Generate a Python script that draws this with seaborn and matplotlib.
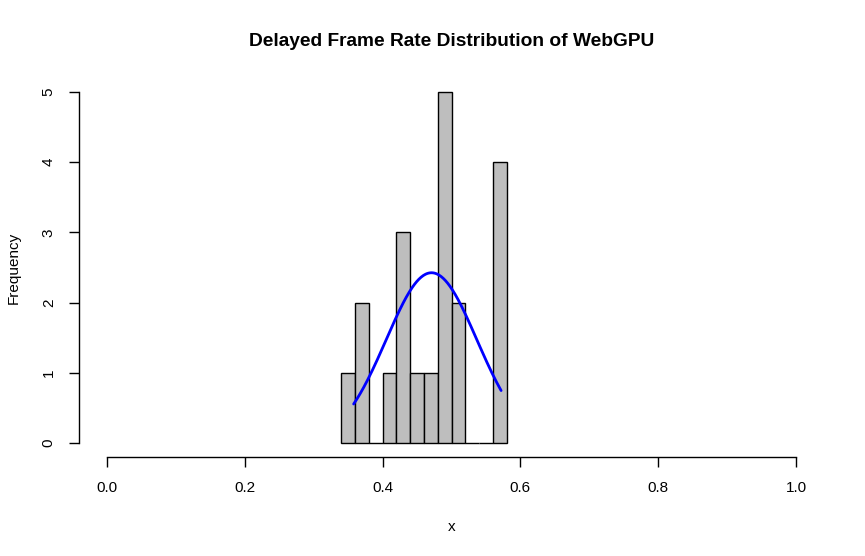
import numpy as np
import pandas as pd
import seaborn as sns
import matplotlib
matplotlib.use("Agg")
import matplotlib.pyplot as plt

sns.set_theme(style="white")
plt.rcParams['font.family'] = ['Liberation Sans', 'DejaVu Sans']
plt.rcParams['text.color'] = 'black'
plt.rcParams['axes.labelcolor'] = 'black'

# Data
bin_edges = [0.34, 0.36, 0.38, 0.40, 0.42, 0.44, 0.46, 0.48, 0.50, 0.52, 0.54, 0.56, 0.58]
counts = [1, 2, 0, 1, 3, 1, 1, 5, 2, 0, 0, 4]
curve_mean = 0.471
curve_sd = 0.0658
n_obs = sum(counts)
bin_width = 0.02
data_min = 0.358
data_max = 0.572
x_ticks = [0.0, 0.2, 0.4, 0.6, 0.8, 1.0]
x_tick_labels = ["0.0", "0.2", "0.4", "0.6", "0.8", "1.0"]
y_ticks = [0, 1, 2, 3, 4, 5]

W, H = 865, 556
fig = plt.figure(figsize=(W / 100, H / 100), dpi=100)
left_px, right_px, top_px, bottom_px = 79.4, 823.6, 78, 457
ax = fig.add_axes([left_px / W, 1 - bottom_px / H, (right_px - left_px) / W, (bottom_px - top_px) / H])

centers = [(a + b) / 2 for a, b in zip(bin_edges[:-1], bin_edges[1:])]
df = pd.DataFrame({"x": centers, "w": counts})
sns.histplot(data=df, x="x", weights="w", bins=bin_edges, color="#BEBEBE",
             edgecolor="black", linewidth=1.0, alpha=1, ax=ax)

xs = np.linspace(data_min, data_max, 200)
ys = n_obs * bin_width * np.exp(-0.5 * ((xs - curve_mean) / curve_sd) ** 2) / (curve_sd * np.sqrt(2 * np.pi))
sns.lineplot(x=xs, y=ys, color="blue", linewidth=2, ax=ax)

ax.set_xlim(-0.04, 1.04)
ax.set_ylim(-0.2, 5.2)
for s in ["top", "right"]:
    ax.spines[s].set_visible(False)
ax.spines["bottom"].set_bounds(0, 1)
ax.spines["left"].set_bounds(0, 5)
for s in ["bottom", "left"]:
    ax.spines[s].set_color("black")
    ax.spines[s].set_linewidth(1.0)
ax.set_xticks(x_ticks)
ax.set_xticklabels(x_tick_labels)
ax.set_yticks(y_ticks)
ax.set_yticklabels([str(v) for v in y_ticks], rotation=90, va="center")
ax.tick_params(axis="both", which="both", direction="out", length=7, width=1,
               color="black", labelsize=11, labelcolor="black", pad=10, left=True, bottom=True)
ax.grid(False)
ax.set_xlabel("x", fontsize=11, labelpad=18, color="black")
ax.set_ylabel("Frequency", fontsize=11, labelpad=15, color="black")
ax.set_title("Delayed Frame Rate Distribution of WebGPU", fontsize=13.8,
             fontweight="bold", pad=23, color="black")

fig.savefig("out.png", dpi=100)
